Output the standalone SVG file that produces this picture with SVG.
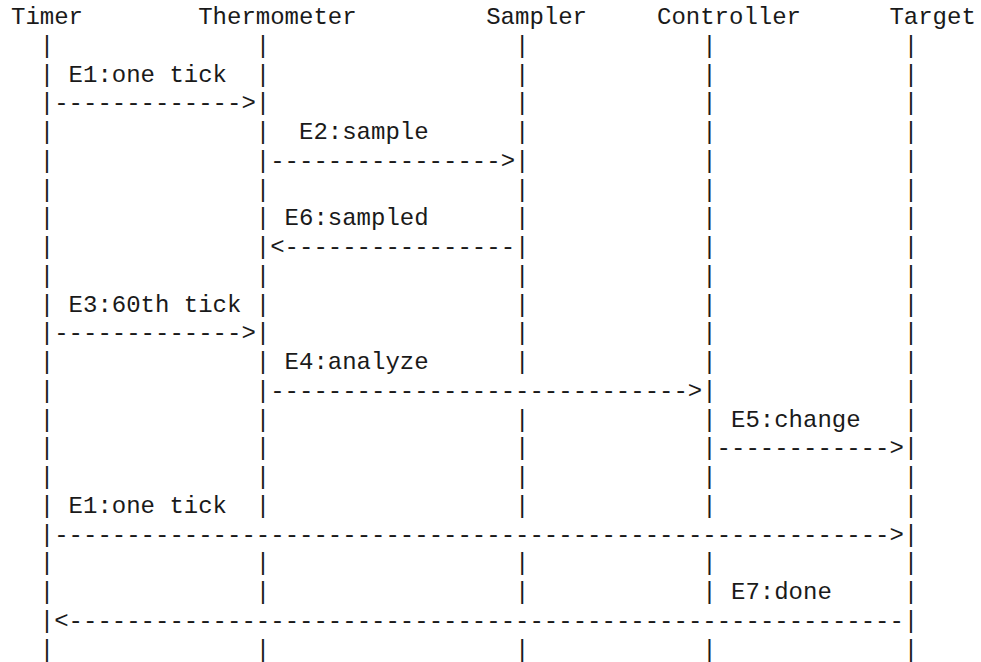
<svg xmlns="http://www.w3.org/2000/svg" width="981" height="662" viewBox="0 0 981 662">
<style>
text{font-family:"Liberation Mono","Courier New",monospace;font-size:24px;fill:#1a1a1a;white-space:pre}
</style>
<rect width="981" height="662" fill="#fff"/>
<g id="Timer">
<text x="11" y="24">Timer</text>
<text><tspan x="39.8" y="52.75">|</tspan><tspan x="39.8" y="81.5">|</tspan><tspan x="39.8" y="110.25">|</tspan><tspan x="39.8" y="139">|</tspan><tspan x="39.8" y="167.75">|</tspan><tspan x="39.8" y="196.5">|</tspan><tspan x="39.8" y="225.25">|</tspan><tspan x="39.8" y="254">|</tspan><tspan x="39.8" y="282.75">|</tspan><tspan x="39.8" y="311.5">|</tspan><tspan x="39.8" y="340.25">|</tspan><tspan x="39.8" y="369">|</tspan><tspan x="39.8" y="397.75">|</tspan><tspan x="39.8" y="426.5">|</tspan><tspan x="39.8" y="455.25">|</tspan><tspan x="39.8" y="484">|</tspan><tspan x="39.8" y="512.75">|</tspan><tspan x="39.8" y="541.5">|</tspan><tspan x="39.8" y="570.25">|</tspan><tspan x="39.8" y="599">|</tspan><tspan x="39.8" y="627.75">|</tspan><tspan x="39.8" y="656.5">|</tspan></text>
</g>
<g id="Thermometer">
<text x="198.2" y="24">Thermometer</text>
<text><tspan x="255.8" y="52.75">|</tspan><tspan x="255.8" y="81.5">|</tspan><tspan x="255.8" y="110.25">|</tspan><tspan x="255.8" y="139">|</tspan><tspan x="255.8" y="167.75">|</tspan><tspan x="255.8" y="196.5">|</tspan><tspan x="255.8" y="225.25">|</tspan><tspan x="255.8" y="254">|</tspan><tspan x="255.8" y="282.75">|</tspan><tspan x="255.8" y="311.5">|</tspan><tspan x="255.8" y="340.25">|</tspan><tspan x="255.8" y="369">|</tspan><tspan x="255.8" y="397.75">|</tspan><tspan x="255.8" y="426.5">|</tspan><tspan x="255.8" y="455.25">|</tspan><tspan x="255.8" y="484">|</tspan><tspan x="255.8" y="512.75">|</tspan><tspan x="255.8" y="570.25">|</tspan><tspan x="255.8" y="599">|</tspan><tspan x="255.8" y="656.5">|</tspan></text>
</g>
<g id="Sampler">
<text x="486.2" y="24">Sampler</text>
<text><tspan x="515" y="52.75">|</tspan><tspan x="515" y="81.5">|</tspan><tspan x="515" y="110.25">|</tspan><tspan x="515" y="139">|</tspan><tspan x="515" y="167.75">|</tspan><tspan x="515" y="196.5">|</tspan><tspan x="515" y="225.25">|</tspan><tspan x="515" y="254">|</tspan><tspan x="515" y="282.75">|</tspan><tspan x="515" y="311.5">|</tspan><tspan x="515" y="340.25">|</tspan><tspan x="515" y="369">|</tspan><tspan x="515" y="426.5">|</tspan><tspan x="515" y="455.25">|</tspan><tspan x="515" y="484">|</tspan><tspan x="515" y="512.75">|</tspan><tspan x="515" y="570.25">|</tspan><tspan x="515" y="599">|</tspan><tspan x="515" y="656.5">|</tspan></text>
</g>
<g id="Controller">
<text x="657" y="24">Controller</text>
<text><tspan x="702.2" y="52.75">|</tspan><tspan x="702.2" y="81.5">|</tspan><tspan x="702.2" y="110.25">|</tspan><tspan x="702.2" y="139">|</tspan><tspan x="702.2" y="167.75">|</tspan><tspan x="702.2" y="196.5">|</tspan><tspan x="702.2" y="225.25">|</tspan><tspan x="702.2" y="254">|</tspan><tspan x="702.2" y="282.75">|</tspan><tspan x="702.2" y="311.5">|</tspan><tspan x="702.2" y="340.25">|</tspan><tspan x="702.2" y="369">|</tspan><tspan x="702.2" y="397.75">|</tspan><tspan x="702.2" y="426.5">|</tspan><tspan x="702.2" y="455.25">|</tspan><tspan x="702.2" y="484">|</tspan><tspan x="702.2" y="512.75">|</tspan><tspan x="702.2" y="570.25">|</tspan><tspan x="702.2" y="599">|</tspan><tspan x="702.2" y="656.5">|</tspan></text>
</g>
<g id="Target">
<text x="889.4" y="24">Target</text>
<text><tspan x="903.8" y="52.75">|</tspan><tspan x="903.8" y="81.5">|</tspan><tspan x="903.8" y="110.25">|</tspan><tspan x="903.8" y="139">|</tspan><tspan x="903.8" y="167.75">|</tspan><tspan x="903.8" y="196.5">|</tspan><tspan x="903.8" y="225.25">|</tspan><tspan x="903.8" y="254">|</tspan><tspan x="903.8" y="282.75">|</tspan><tspan x="903.8" y="311.5">|</tspan><tspan x="903.8" y="340.25">|</tspan><tspan x="903.8" y="369">|</tspan><tspan x="903.8" y="397.75">|</tspan><tspan x="903.8" y="426.5">|</tspan><tspan x="903.8" y="455.25">|</tspan><tspan x="903.8" y="484">|</tspan><tspan x="903.8" y="512.75">|</tspan><tspan x="903.8" y="541.5">|</tspan><tspan x="903.8" y="570.25">|</tspan><tspan x="903.8" y="599">|</tspan><tspan x="903.8" y="627.75">|</tspan><tspan x="903.8" y="656.5">|</tspan></text>
</g>
<g id="connectors">
<text x="54.2" y="110.25">-------------&gt;</text>
<text x="270.2" y="167.75">----------------&gt;</text>
<text x="270.2" y="254">&lt;----------------</text>
<text x="54.2" y="340.25">-------------&gt;</text>
<text x="270.2" y="397.75">-----------------------------&gt;</text>
<text x="716.6" y="455.25">------------&gt;</text>
<text x="54.2" y="541.5">----------------------------------------------------------&gt;</text>
<text x="54.2" y="627.75">&lt;----------------------------------------------------------</text>
</g>
<g id="labels">
<text x="68.6" y="81.5">E1:one tick</text>
<text x="299" y="139">E2:sample</text>
<text x="284.6" y="225.25">E6:sampled</text>
<text x="68.6" y="311.5">E3:60th tick</text>
<text x="284.6" y="369">E4:analyze</text>
<text x="731" y="426.5">E5:change</text>
<text x="68.6" y="512.75">E1:one tick</text>
<text x="731" y="599">E7:done</text>
</g>
</svg>
